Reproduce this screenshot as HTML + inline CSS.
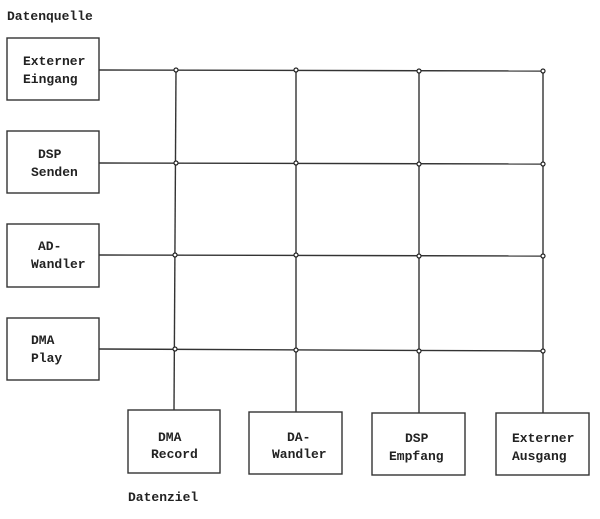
<!DOCTYPE html>
<html><head><style>body{margin:0;background:#fff}</style></head><body>
<svg width="600" height="514" xmlns="http://www.w3.org/2000/svg" font-family="Liberation Mono, monospace" font-size="13" font-weight="bold" fill="#222">
<rect width="600" height="514" fill="#fff"/>
<g stroke="#333" stroke-width="1.4" fill="none">
<rect x="7" y="38" width="92" height="62"/>
<rect x="7" y="131" width="92" height="62"/>
<rect x="7" y="224" width="92" height="63"/>
<rect x="7" y="318" width="92" height="62"/>
<rect x="128" y="410" width="92" height="63"/>
<rect x="249" y="412" width="93" height="62"/>
<rect x="372" y="413" width="93" height="62"/>
<rect x="496" y="413" width="93" height="62"/>
<line x1="99" y1="70" x2="543" y2="71"/>
<line x1="99" y1="163" x2="543" y2="164"/>
<line x1="99" y1="255" x2="543" y2="256"/>
<line x1="99" y1="349" x2="543" y2="351"/>
<line x1="176" y1="70" x2="174" y2="410"/>
<line x1="296" y1="70" x2="296" y2="412"/>
<line x1="419" y1="71" x2="419" y2="413"/>
<line x1="543" y1="71" x2="543" y2="413"/>
</g>
<g fill="#fff" stroke="#222" stroke-width="1.2">
<circle cx="176" cy="70" r="2"/><circle cx="296" cy="70" r="2"/><circle cx="419" cy="71" r="2"/><circle cx="543" cy="71" r="2"/>
<circle cx="176" cy="163" r="2"/><circle cx="296" cy="163" r="2"/><circle cx="419" cy="164" r="2"/><circle cx="543" cy="164" r="2"/>
<circle cx="175" cy="255" r="2"/><circle cx="296" cy="255" r="2"/><circle cx="419" cy="256" r="2"/><circle cx="543" cy="256" r="2"/>
<circle cx="175" cy="349" r="2"/><circle cx="296" cy="350" r="2"/><circle cx="419" cy="351" r="2"/><circle cx="543" cy="351" r="2"/>
</g>
<g stroke="none">
<text x="7" y="20">Datenquelle</text>
<text x="23" y="65">Externer</text><text x="23" y="83">Eingang</text>
<text x="38" y="158">DSP</text><text x="31" y="176">Senden</text>
<text x="38" y="250">AD-</text><text x="31" y="268">Wandler</text>
<text x="31" y="344">DMA</text><text x="31" y="362">Play</text>
<text x="158" y="441">DMA</text><text x="151" y="458">Record</text>
<text x="287" y="441">DA-</text><text x="272" y="458">Wandler</text>
<text x="405" y="442">DSP</text><text x="389" y="460">Empfang</text>
<text x="512" y="442">Externer</text><text x="512" y="460">Ausgang</text>
<text x="128" y="501">Datenziel</text>
</g>
</svg>
</body></html>
